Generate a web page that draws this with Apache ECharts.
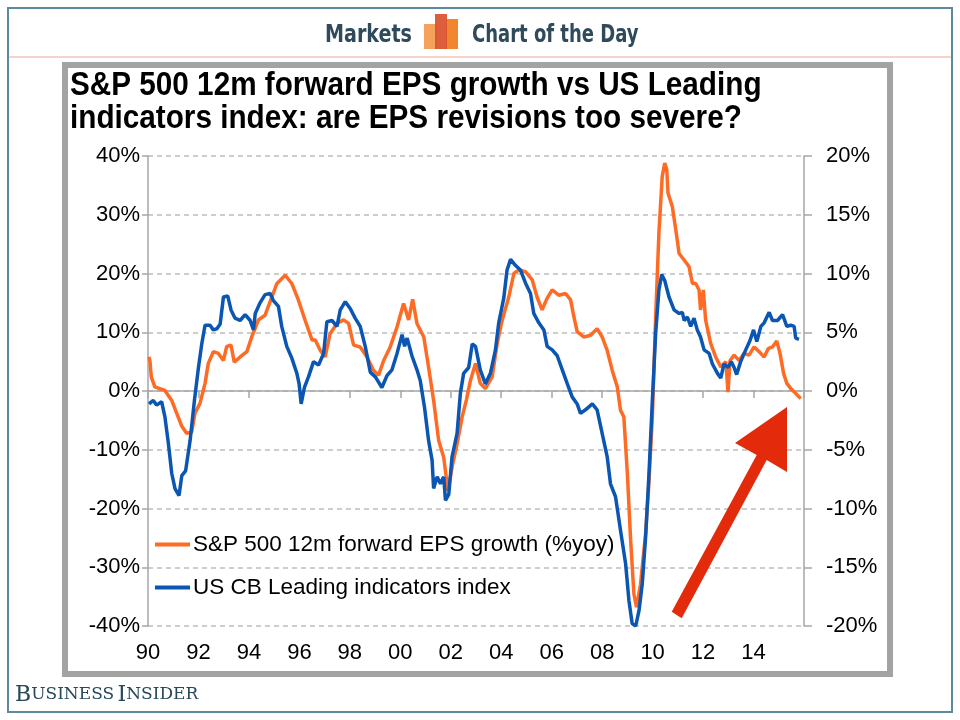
<!DOCTYPE html>
<html>
<head>
<meta charset="utf-8">
<script src="https://cdn.jsdelivr.net/npm/echarts@6/dist/echarts.min.js"></script>
<style>
html,body{margin:0;padding:0;background:#fff;}
#chart{width:960px;height:720px;}
</style>
</head>
<body>
<div id="chart"></div>
<script>
// S&P 500 12m forward EPS growth (%yoy), left axis
const epsDates = [
  1990.04, 1990.08, 1990.13, 1990.27, 1990.67, 1990.94,
  1991.14, 1991.33, 1991.53, 1991.73, 1991.86,
  1992.06, 1992.26, 1992.39, 1992.59, 1992.79, 1992.99,
  1993.12, 1993.29, 1993.42, 1993.65, 1993.92,
  1994.11, 1994.38, 1994.64, 1994.84,
  1995.11, 1995.44, 1995.70, 1995.96,
  1996.23, 1996.50, 1996.63, 1996.83,
  1997.02, 1997.22, 1997.49, 1997.75, 1997.95,
  1998.15, 1998.41, 1998.68, 1998.94,
  1999.14, 1999.34, 1999.60, 1999.87,
  2000.13, 2000.33, 2000.49, 2000.66, 2000.93,
  2001.12, 2001.32, 2001.52, 2001.72, 2001.89,
  2002.05, 2002.25, 2002.45, 2002.62, 2002.78, 2002.98,
  2003.17, 2003.37, 2003.64, 2003.84,
  2004.04, 2004.30, 2004.50, 2004.70, 2004.96,
  2005.23, 2005.42, 2005.62, 2005.82,
  2006.02, 2006.28, 2006.55, 2006.75, 2006.88,
  2007.01, 2007.27, 2007.54, 2007.80,
  2008.00, 2008.20, 2008.40, 2008.60, 2008.73, 2008.86,
  2009.00, 2009.13, 2009.26, 2009.36, 2009.52, 2009.72, 2009.85, 2009.99,
  2010.12, 2010.25, 2010.38, 2010.48, 2010.56, 2010.61, 2010.78, 2010.92,
  2011.05, 2011.25, 2011.44, 2011.58, 2011.71, 2011.84, 2011.90,
  2012.01, 2012.10, 2012.30, 2012.50, 2012.70, 2012.90, 2012.99,
  2013.07, 2013.23, 2013.43, 2013.62, 2013.82,
  2014.02, 2014.22, 2014.42, 2014.58, 2014.75, 2014.92,
  2015.05, 2015.19, 2015.32, 2015.48, 2015.67, 2015.87
];
const epsValues = [
  5.8, 5.0, 2.4, 0.7, 0.1, -1.6,
  -3.8, -5.9, -7.2, -7.0, -3.8,
  -2.1, 1.3, 4.7, 6.7, 6.4, 5.2,
  7.6, 7.8, 4.9, 5.8, 6.7,
  9.2, 12.1, 12.9, 15.2,
  18.3, 19.7, 18.3, 15.5,
  12.0, 8.7, 8.7, 6.9,
  5.8, 9.8, 11.5, 12.1, 11.5,
  7.8, 7.5, 5.8, 3.5,
  2.7, 5.2, 7.5, 10.9,
  14.9, 12.1, 15.6, 11.5, 9.2,
  4.1, -1.6, -8.4, -11.3, -17.0,
  -13.0, -9.0, -4.4, -1.5, 1.8, 4.7,
  1.3, 0.4, 2.4, 8.1,
  12.1, 16.0, 20.0, 20.6, 20.3,
  18.9, 16.0, 13.8, 15.8,
  17.2, 16.3, 16.6, 15.5, 12.6,
  10.1, 9.2, 9.5, 10.6,
  9.2, 6.9, 3.5, 0.7, -3.3, -4.4,
  -14.1, -25.5, -34.6, -36.8, -32.9, -24.4, -15.8, -4.4,
  12.6, 26.9, 36.5, 38.8, 37.7, 33.7, 31.4, 27.4,
  23.4, 22.3, 21.2, 18.3, 18.3, 17.2, 13.8,
  17.2, 12.1, 8.1, 5.8, 4.1, 5.0, -0.2,
  5.2, 6.1, 5.2, 6.4, 6.1,
  7.5, 6.7, 5.8, 7.2, 7.5, 8.5,
  6.4, 3.0, 1.3, 0.4, -0.4, -1.3
];

// US CB Leading indicators index (%yoy), right axis
const leiDates = [
  1990.04, 1990.21, 1990.34, 1990.54, 1990.67, 1990.81, 1990.94,
  1991.07, 1991.23, 1991.34, 1991.49, 1991.67, 1991.84,
  1992.00, 1992.13, 1992.26, 1992.46, 1992.59, 1992.73, 1992.86, 1992.99,
  1993.16, 1993.29, 1993.45, 1993.65, 1993.85,
  1994.05, 1994.18, 1994.25, 1994.44, 1994.64, 1994.84, 1994.97,
  1995.17, 1995.30, 1995.50, 1995.70, 1995.90, 1995.99,
  1996.07, 1996.20, 1996.36, 1996.56, 1996.76, 1996.96,
  1997.09, 1997.29, 1997.49, 1997.62, 1997.82,
  1998.02, 1998.21, 1998.41, 1998.61, 1998.81,
  1999.01, 1999.27, 1999.47, 1999.67, 1999.87,
  2000.07, 2000.17, 2000.27, 2000.46, 2000.66, 2000.79, 2000.96,
  2001.12, 2001.26, 2001.32, 2001.46, 2001.59, 2001.72, 2001.79, 2001.92,
  2002.05, 2002.25, 2002.38, 2002.51, 2002.71, 2002.85, 2002.98,
  2003.17, 2003.37, 2003.57, 2003.77, 2003.90,
  2004.10, 2004.23, 2004.37, 2004.56, 2004.76, 2004.96,
  2005.16, 2005.29, 2005.49, 2005.69, 2005.82,
  2006.02, 2006.22, 2006.42, 2006.62, 2006.81,
  2007.01, 2007.14, 2007.34, 2007.61, 2007.80,
  2008.00, 2008.20, 2008.33, 2008.53, 2008.73, 2008.93,
  2009.06, 2009.19, 2009.33, 2009.46, 2009.59, 2009.72, 2009.85, 2009.99,
  2010.12, 2010.25, 2010.36, 2010.48, 2010.65, 2010.85,
  2011.05, 2011.18, 2011.25, 2011.38, 2011.51, 2011.64, 2011.77, 2011.90,
  2012.04, 2012.24, 2012.37, 2012.57, 2012.70, 2012.83, 2012.99,
  2013.12, 2013.23, 2013.33, 2013.49, 2013.69, 2013.86,
  2014.00, 2014.13, 2014.29, 2014.42, 2014.62, 2014.75, 2014.95,
  2015.15, 2015.32, 2015.48, 2015.61, 2015.67, 2015.80
];
const leiValues = [
  -1.1, -0.8, -1.2, -0.9, -2.2, -4.5, -7.0,
  -8.3, -8.9, -7.2, -6.8, -4.2, -0.8,
  2.0, 4.0, 5.6, 5.6, 5.2, 5.3, 5.7, 8.0,
  8.1, 6.9, 6.2, 6.0, 6.5,
  6.0, 5.2, 6.6, 7.5, 8.2, 8.3, 7.7,
  7.2, 5.5, 3.8, 2.8, 1.5, 0.6,
  -1.1, 0.3, 1.2, 2.5, 2.2, 3.2,
  5.9, 6.0, 5.5, 6.9, 7.6,
  7.0, 6.2, 5.5, 3.8, 1.6,
  1.2, 0.3, 1.3, 1.8, 3.2,
  4.8, 3.8, 4.5, 3.0, 1.8, 0.9, -1.4,
  -4.2, -5.9, -8.3, -7.3, -7.9, -7.3, -9.3, -8.8,
  -5.6, -3.6, -0.2, 1.5, 2.0, 4.0, 3.8,
  1.8, 0.6, 1.5, 3.5, 5.8,
  7.9, 10.3, 11.2, 10.7, 10.3, 9.2,
  8.3, 6.6, 5.8, 5.2, 3.8,
  3.5, 3.0, 1.8, 0.6, -0.5,
  -1.1, -1.9, -1.6, -1.1, -1.6,
  -3.6, -5.6, -7.9, -9.0, -11.9, -14.7,
  -17.8, -19.8, -20.0, -18.7, -16.4, -12.5, -7.3, -0.8,
  4.9, 8.6, 9.9, 9.4, 8.0, 6.9,
  6.6, 6.7, 6.0, 6.3, 5.5, 6.2, 5.2, 4.6,
  3.5, 3.2, 2.3, 1.5, 1.1, 2.3, 2.0,
  2.5, 2.0, 1.4, 2.5, 3.5, 4.3,
  5.2, 4.2, 5.5, 5.8, 6.7, 6.0, 6.0,
  6.5, 5.5, 5.6, 5.5, 4.5, 4.4
];

const leftTicks = { min: -40, max: 40, interval: 10 };
const rightTicks = { min: -20, max: 20, interval: 5 };
const yearTicks = { min: 1990, max: 2016, interval: 2 };

const seriesNames = ['S&P 500 12m forward EPS growth (%yoy)', 'US CB Leading indicators index'];
const titleLines = ['S&P 500 12m forward EPS growth vs US Leading', 'indicators index: are EPS revisions too severe?'];

const epsData = epsDates.map((d, i) => [d, epsValues[i]]);
const leiData = leiDates.map((d, i) => [d, leiValues[i]]);

const FONT = "'Liberation Sans', Arial, sans-serif";
const COND = "'Liberation Sans Narrow', 'DejaVu Sans Condensed', 'DejaVu Sans', sans-serif";
const SERIF = "'DejaVu Serif', 'Liberation Serif', serif";
const GRID_COLOR = '#a6a6a6';
const HEAD_COLOR = '#2e4a5b';

const chart = echarts.init(document.getElementById('chart'), null, { renderer: 'canvas' });

function txt(x, y, text, font, fill, sx, z) {
  return {
    type: 'text', x: x, y: y, scaleX: sx, scaleY: 1, z: z || 5,
    style: { x: 0, y: 0, text: text, font: font, fill: fill, verticalAlign: 'middle', textVerticalAlign: 'middle', align: 'left', textAlign: 'left' }
  };
}

const option = {
  backgroundColor: '#ffffff',
  animation: false,
  legend: {
    orient: 'vertical',
    left: 150,
    top: 528,
    itemWidth: 35,
    itemHeight: 4,
    itemGap: 20,
    icon: 'rect',
    data: seriesNames,
    textStyle: { fontFamily: FONT, fontSize: 22.5, color: '#000', padding: [0, 0, 0, -2] }
  },
  grid: { left: 148, right: 156, top: 156, bottom: 94, containLabel: false },
  xAxis: [
    {
      type: 'value',
      min: yearTicks.min, max: yearTicks.max, interval: yearTicks.interval,
      axisLine: { show: false },
      axisTick: { show: false },
      splitLine: { show: false },
      axisLabel: {
        margin: 16,
        fontFamily: FONT, fontSize: 22, color: '#000',
        formatter: v => (v === yearTicks.max ? '' : String(v).slice(2))
      }
    },
    {
      type: 'value',
      min: yearTicks.min, max: yearTicks.max, interval: yearTicks.interval,
      position: 'bottom',
      axisLine: { show: true, onZero: true, onZeroAxisIndex: 0, lineStyle: { color: GRID_COLOR, width: 1.5 } },
      axisTick: { show: true, length: 7, lineStyle: { color: GRID_COLOR, width: 1.5 } },
      axisLabel: { show: false },
      splitLine: { show: false }
    }
  ],
  yAxis: [
    {
      type: 'value',
      min: leftTicks.min, max: leftTicks.max, interval: leftTicks.interval,
      position: 'left',
      axisLine: { show: true, onZero: false, lineStyle: { color: GRID_COLOR, width: 1.5 } },
      axisTick: { show: true, length: 6, lineStyle: { color: GRID_COLOR, width: 1.5 } },
      axisLabel: { margin: 8, fontFamily: FONT, fontSize: 22, color: '#000', formatter: '{value}%' },
      splitLine: { show: true, lineStyle: { color: '#bdbdbd', width: 1.5, type: [5, 4] } }
    },
    {
      type: 'value',
      min: rightTicks.min, max: rightTicks.max, interval: rightTicks.interval,
      position: 'right',
      axisLine: { show: true, onZero: false, lineStyle: { color: GRID_COLOR, width: 1.5 } },
      axisTick: { show: true, length: 8, lineStyle: { color: GRID_COLOR, width: 1.5 } },
      axisLabel: { margin: 22, fontFamily: FONT, fontSize: 22, color: '#000', formatter: '{value}%' },
      splitLine: { show: false }
    }
  ],
  series: [
    {
      name: seriesNames[0],
      type: 'line',
      xAxisIndex: 0, yAxisIndex: 0,
      data: epsData,
      symbol: 'none',
      lineStyle: { color: '#ff6a24', width: 3.5 },
      itemStyle: { color: '#ff6a24' },
      z: 3
    },
    {
      name: seriesNames[1],
      type: 'line',
      xAxisIndex: 0, yAxisIndex: 1,
      data: leiData,
      symbol: 'none',
      lineStyle: { color: '#0a56b2', width: 3.5 },
      itemStyle: { color: '#0a56b2' },
      z: 4
    }
  ],
  graphic: [
    // outer frame
    { type: 'rect', shape: { x: 8, y: 8, width: 944, height: 704 }, style: { fill: 'none', stroke: '#5b8a9c', lineWidth: 2 }, z: 1 },
    // header underline
    { type: 'line', shape: { x1: 9, y1: 57, x2: 951, y2: 57 }, style: { stroke: '#f6d2c8', lineWidth: 2 }, z: 1 },
    // header texts
    txt(325, 35, 'Markets', 'bold 25px ' + COND, HEAD_COLOR, 0.85),
    txt(472, 35, 'Chart of the Day', 'bold 25px ' + COND, HEAD_COLOR, 0.8),
    // header icon
    { type: 'rect', shape: { x: 424, y: 24, width: 13, height: 25 }, style: { fill: '#f4a25c' }, z: 5 },
    { type: 'rect', shape: { x: 446, y: 19, width: 12, height: 30 }, style: { fill: '#f2862f' }, z: 5 },
    { type: 'rect', shape: { x: 435, y: 14, width: 12, height: 35 }, style: { fill: '#d9502b', opacity: 0.92 }, z: 6 },
    // chart gray frame
    { type: 'rect', shape: { x: 65, y: 65, width: 825, height: 609 }, style: { fill: 'none', stroke: '#a3a3a3', lineWidth: 6 }, z: 1 },
    // title
    txt(70, 86, titleLines[0], 'bold 33px ' + FONT, '#000', 0.9),
    txt(70, 119, titleLines[1], 'bold 33px ' + FONT, '#000', 0.9),
    // red arrow annotation
    { type: 'polygon', shape: { points: [[671.7, 611.7], [756.7, 455], [735, 443], [787, 407], [787, 472], [766.7, 460], [681.7, 618.3]] }, style: { fill: '#e32b0c' }, z: 10 },
    // Business Insider logo
    {
      type: 'text', left: 15, top: 684,
      style: {
        rich: {
          b: { fontFamily: SERIF, fontSize: 22, fill: '#27495a' },
          s: { fontFamily: SERIF, fontSize: 17, fill: '#27495a' }
        },
        text: '{b|B}{s|USINESS} {b|I}{s|NSIDER}'
      },
      z: 5
    }
  ]
};

chart.setOption(option);
</script>
</body>
</html>
